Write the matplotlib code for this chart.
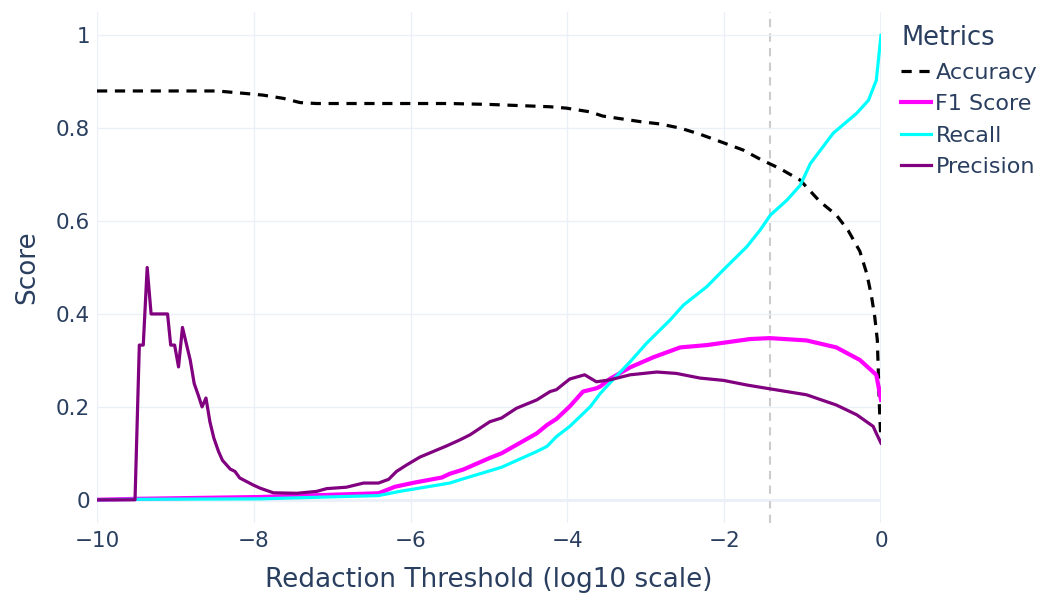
import matplotlib
matplotlib.use("Agg")
import matplotlib.pyplot as plt

# threshold (log10) / score pairs
acc_x = [-10, -8.47, -8.13, -7.88, -7.62, -7.41, -7.2, -5.5, -4.99, -4.22, -4.01, -3.71,
         -3.55, -3.27, -3.07, -2.82, -2.56, -2.31, -2.05, -1.76, -1.54, -1.29, -1.03,
         -0.78, -0.57, -0.42, -0.27, -0.18, -0.12, -0.08, -0.047, -0.035, -0.022, 0]
acc_y = [0.880, 0.880, 0.875, 0.871, 0.864, 0.855, 0.853, 0.853, 0.851, 0.846, 0.843, 0.835,
         0.826, 0.819, 0.814, 0.809, 0.800, 0.787, 0.771, 0.753, 0.733, 0.713, 0.688,
         0.642, 0.613, 0.580, 0.535, 0.486, 0.437, 0.394, 0.344, 0.280, 0.208, 0.122]

f1_x = [-10, -9.5, -7.92, -6.41, -6.2, -5.95, -5.6, -5.5, -5.33, -4.99, -4.84, -4.39, -4.26,
        -4.14, -3.97, -3.8, -3.63, -3.58, -3.46, -3.2, -2.9, -2.56, -2.22, -2.01, -1.67,
        -1.42, -0.95, -0.57, -0.27, -0.06, 0]
f1_y = [0.0, 0.002, 0.006, 0.014, 0.028, 0.037, 0.048, 0.056, 0.065, 0.090, 0.100, 0.143, 0.161,
        0.174, 0.201, 0.233, 0.240, 0.244, 0.260, 0.285, 0.307, 0.328, 0.333, 0.338, 0.346,
        0.348, 0.343, 0.328, 0.301, 0.269, 0.215]

rec_x = [-10, -9.5, -7.92, -6.41, -6.14, -5.5, -5.37, -4.84, -4.39, -4.26, -4.14, -3.97, -3.71,
         -3.58, -3.46, -3.2, -2.99, -2.69, -2.52, -2.22, -2.01, -1.71, -1.54, -1.41, -1.2,
         -1.03, -0.9, -0.61, -0.31, -0.16, -0.06, 0]
rec_y = [0.0, 0.001, 0.002, 0.009, 0.018, 0.036, 0.043, 0.070, 0.104, 0.115, 0.136, 0.158, 0.200,
         0.229, 0.251, 0.297, 0.337, 0.387, 0.419, 0.459, 0.495, 0.545, 0.581, 0.613, 0.645,
         0.677, 0.724, 0.789, 0.832, 0.860, 0.903, 1.0]

prec_x = [-10, -9.515, -9.46, -9.41, -9.36, -9.31, -9.10, -9.06, -9.01, -8.96, -8.91, -8.81,
          -8.76, -8.71, -8.66, -8.61, -8.56, -8.51, -8.45, -8.40, -8.30, -8.24, -8.18, -8.01,
          -7.92, -7.75, -7.45, -7.20, -7.07, -6.82, -6.60, -6.41, -6.28, -6.18, -6.05, -5.88,
          -5.71, -5.54, -5.37, -5.24, -4.99, -4.84, -4.65, -4.39, -4.22, -4.14, -3.97, -3.78,
          -3.63, -3.46, -3.20, -2.86, -2.61, -2.31, -2.01, -1.71, -1.46, -0.95, -0.57, -0.31,
          -0.10, -0.06, 0]
prec_y = [0.0, 0.0, 0.333, 0.333, 0.5, 0.4, 0.4, 0.333, 0.333, 0.286, 0.371, 0.300,
          0.250, 0.226, 0.200, 0.219, 0.168, 0.133, 0.104, 0.085, 0.066, 0.061, 0.047, 0.032,
          0.025, 0.015, 0.014, 0.018, 0.024, 0.027, 0.036, 0.036, 0.044, 0.061, 0.075, 0.092,
          0.104, 0.116, 0.129, 0.140, 0.168, 0.176, 0.197, 0.215, 0.233, 0.237, 0.260, 0.269,
          0.254, 0.258, 0.269, 0.275, 0.272, 0.262, 0.257, 0.247, 0.240, 0.226, 0.204, 0.183,
          0.158, 0.143, 0.122]

marker_x = -1.42

txt = "#2a3f5f"
grid = "#EBF0F8"

fig = plt.figure(figsize=(10.43, 5.94), dpi=100)
ax = fig.add_axes([97 / 1043, (594 - 523) / 594, 784 / 1043, 511 / 594])

ax.axvline(marker_x, color="#cccccc", lw=1.5, ls=(0, (4, 3)), zorder=1)
ax.plot(acc_x, acc_y, color="black", lw=2.3, ls=(0, (3.2, 2.4)), label="Accuracy", zorder=3)
ax.plot(f1_x, f1_y, color="#FF00FF", lw=3.0, label="F1 Score", zorder=3)
ax.plot(rec_x, rec_y, color="#00FFFF", lw=2.3, label="Recall", zorder=3)
ax.plot(prec_x, prec_y, color="#800080", lw=2.3, label="Precision", zorder=3)

ax.set_xlim(-10, 0)
ax.set_ylim(-0.05, 1.05)
ax.set_xticks([-10, -8, -6, -4, -2, 0])
ax.set_xticklabels(["\u221210", "\u22128", "\u22126", "\u22124", "\u22122", "0"])
ax.set_yticks([0, 0.2, 0.4, 0.6, 0.8, 1])
ax.set_yticklabels(["0", "0.2", "0.4", "0.6", "0.8", "1"])
ax.grid(True, color=grid, lw=1.0, zorder=0)
ax.axhline(0, color=grid, lw=2, zorder=0)
ax.axvline(0, color=grid, lw=2, zorder=0)
for s in ax.spines.values():
    s.set_visible(False)
ax.tick_params(axis="x", length=0, labelsize=15.5, labelcolor=txt, pad=6)
ax.tick_params(axis="y", length=0, labelsize=15.5, labelcolor=txt, pad=5)
ax.set_xlabel("Redaction Threshold (log10 scale)", fontsize=18.9, color=txt, labelpad=11)
ax.set_ylabel("Score", fontsize=18.9, color=txt, labelpad=11)

leg = ax.legend(title="Metrics", loc="upper left", bbox_to_anchor=(901 / 1043, 1 - 25 / 594),
                bbox_transform=fig.transFigure, frameon=False, fontsize=16,
                title_fontsize=18.5, handlelength=1.35, handletextpad=0.2,
                labelspacing=0.52, borderaxespad=0, borderpad=0, alignment="left")
for t in leg.get_texts():
    t.set_color(txt)
leg.get_title().set_color(txt)

fig.savefig("out.png", dpi=100)
